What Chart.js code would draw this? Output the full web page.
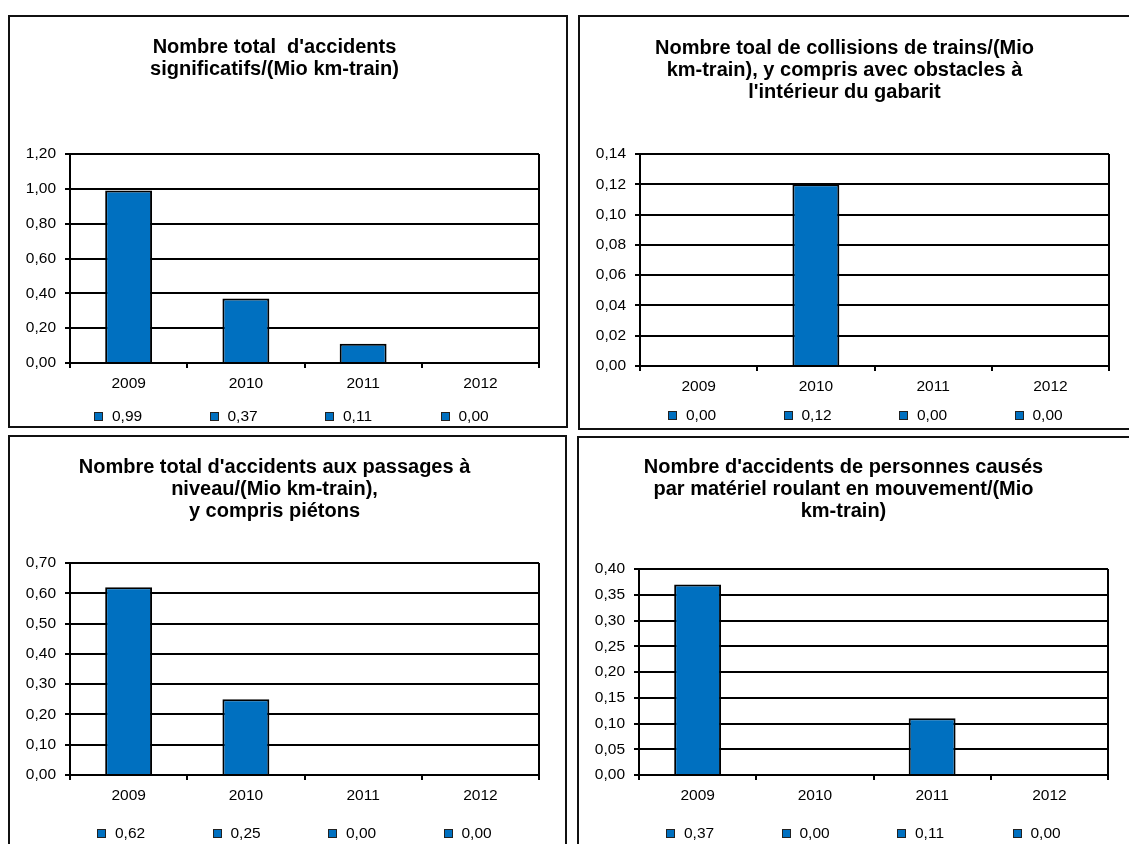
<!DOCTYPE html>
<html>
<head>
<meta charset="utf-8">
<script src="https://cdn.jsdelivr.net/npm/chart.js@4"></script>
<style>
  body { margin: 0; background: #fff; width: 1129px; height: 844px; overflow: hidden; position: relative; font-family: "Liberation Sans", Arial, sans-serif; }
  .frame { position: absolute; border: 2px solid #111; box-sizing: border-box; pointer-events: none; }
  .cv { position: absolute; }
  .legend { position: absolute; display: flex; font-size: 15.5px; color: #000; }
  .legend .item { width: 115.5px; display: flex; align-items: center; }
  .legend .box { width: 7px; height: 7px; background: #0070C0; border: 1px solid #222; margin-right: 9px; }
</style>
</head>
<body>

<script>
// data
const years = ['2009', '2010', '2011', '2012'];
const totalAccidents = [0.99, 0.37, 0.11, 0.00];
const trainCollisions = [0.00, 0.12, 0.00, 0.00];
const levelCrossing = [0.62, 0.25, 0.00, 0.00];
const personsHit = [0.37, 0.00, 0.11, 0.00];

const title1 = ['Nombre total  d\'accidents', 'significatifs/(Mio km-train)'];
const title2 = ['Nombre toal de collisions de trains/(Mio', 'km-train), y compris avec obstacles à', 'l\'intérieur du gabarit'];
const title3 = ['Nombre total d\'accidents aux passages à', 'niveau/(Mio km-train),', 'y compris piétons'];
const title4 = ['Nombre d\'accidents de personnes causés', 'par matériel roulant en mouvement/(Mio', 'km-train)'];

const yMax1 = 1.2, yStep1 = 0.2;
const yMax2 = 0.14, yStep2 = 0.02;
const yMax3 = 0.7, yStep3 = 0.1;
const yMax4 = 0.4, yStep4 = 0.05;

const BAR = '#0070C0';
const fmt = v => v.toFixed(2).replace('.', ',');

Chart.defaults.font.family = '"Liberation Sans", Arial, sans-serif';
Chart.defaults.color = '#000';

// panel: frame box, canvas box, title paddings, legend spot
const panels = [
  { frame: [8, 15, 560, 413], cv: [10, 17, 556, 386], tp: [19, 74], leg: [94, 416], title: title1, data: totalAccidents, max: yMax1, step: yStep1 },
  { frame: [578, 15, 570, 415], cv: [580, 17, 556, 389], tp: [20, 51], leg: [668, 415], title: title2, data: trainCollisions, max: yMax2, step: yStep2 },
  { frame: [8, 435, 559, 430], cv: [10, 437, 556, 378], tp: [19, 41], leg: [97, 833], title: title3, data: levelCrossing, max: yMax3, step: yStep3 },
  { frame: [577, 436, 570, 430], cv: [579, 438, 556, 377], tp: [18, 47], leg: [666, 833], title: title4, data: personsHit, max: yMax4, step: yStep4 }
];

panels.forEach((p, n) => {
    const fr = document.createElement('div');
    fr.className = 'frame';
    fr.style.cssText = `left:${p.frame[0]}px;top:${p.frame[1]}px;width:${p.frame[2]}px;height:${p.frame[3]}px`;

    const cv = document.createElement('canvas');
    cv.className = 'cv';
    cv.id = 'chart' + n;
    cv.width = p.cv[2];
    cv.height = p.cv[3];
    cv.style.cssText = `left:${p.cv[0]}px;top:${p.cv[1]}px`;
    document.body.appendChild(cv);
    document.body.appendChild(fr);

    new Chart(cv, {
        type: 'bar',
        data: {
            labels: years,
            datasets: [{
                data: p.data,
                backgroundColor: BAR,
                borderColor: '#000',
                borderWidth: 2,
                borderSkipped: 'bottom',
                categoryPercentage: 1,
                barPercentage: 0.4
            }]
        },
        options: {
            responsive: false,
            animation: false,
            layout: { padding: { left: 0, right: 27, top: 0, bottom: 0 } },
            plugins: {
                legend: { display: false },
                tooltip: { enabled: false },
                title: {
                    display: true,
                    text: p.title,
                    color: '#000',
                    font: { size: 20, weight: 'bold', lineHeight: 1.1 },
                    padding: { top: p.tp[0], bottom: p.tp[1] }
                }
            },
            scales: {
                x: {
                    grid: {
                        color: c => c.type === 'tick' ? 'rgba(0,0,0,0)' : '#000',
                        tickColor: '#000',
                        tickLength: 5,
                        lineWidth: 2
                    },
                    border: { display: true, color: '#000', width: 2 },
                    ticks: { font: { size: 15.5 }, padding: 6 },
                    afterFit: s => { s.height = 40; }
                },
                y: {
                    min: 0,
                    max: p.max,
                    ticks: { stepSize: p.step, font: { size: 15.5 }, padding: 9, callback: v => fmt(v) },
                    grid: { color: '#000', lineWidth: 2, tickLength: 5, tickColor: '#000' },
                    border: { display: true, color: '#000', width: 2 },
                    afterFit: s => { s.width = 60; }
                }
            }
        }
    });

    // legend: one entry per year, showing its value
    const lg = document.createElement('div');
    lg.className = 'legend';
    lg.style.cssText = `left:${p.leg[0]}px;top:${p.leg[1] - 9}px;height:18px`;
    lg.innerHTML = p.data.map(v => `<div class="item"><span class="box"></span><span>${fmt(v)}</span></div>`).join('');
    document.body.appendChild(lg);
});
</script>
</body>
</html>
